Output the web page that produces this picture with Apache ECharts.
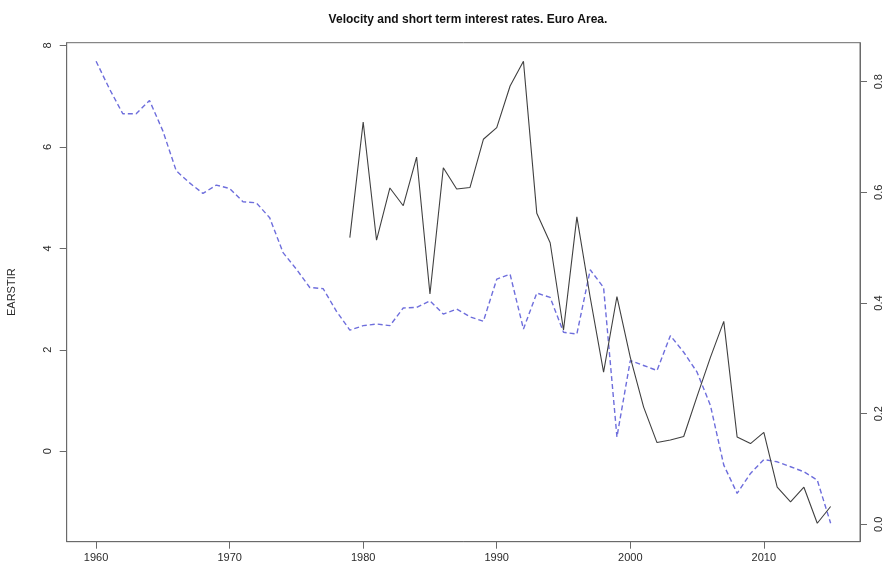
<!DOCTYPE html>
<html>
<head>
<meta charset="utf-8">
<script src="https://cdn.jsdelivr.net/npm/echarts@6/dist/echarts.min.js"></script>
<style>
  html, body { margin: 0; padding: 0; background: #fff; }
  #chart { width: 887px; height: 568px; }
</style>
</head>
<body>
<div id="chart"></div>
<script>
// Years covered by the chart
const years = [];
for (let y = 1960; y <= 2015; y++) years.push(y);

// Short-term interest rate (left axis), available from 1979
const earstirYears = [1979,1980,1981,1982,1983,1984,1985,1986,1987,1988,1989,1990,1991,1992,1993,1994,1995,1996,1997,1998,1999,2000,2001,2002,2003,2004,2005,2006,2007,2008,2009,2010,2011,2012,2013,2014,2015];
const earstir = [4.21,6.49,4.16,5.19,4.84,5.80,3.10,5.59,5.17,5.20,6.15,6.38,7.20,7.69,4.69,4.11,2.39,4.62,3.03,1.56,3.05,1.85,0.87,0.17,0.22,0.29,1.08,1.85,2.56,0.28,0.15,0.37,-0.71,-1.00,-0.71,-1.42,-1.09];

// Velocity (right axis), 1960-2015
const velocity = [0.837,0.787,0.742,0.742,0.766,0.711,0.639,0.617,0.598,0.613,0.607,0.583,0.581,0.554,0.491,0.461,0.428,0.426,0.385,0.351,0.359,0.362,0.359,0.391,0.392,0.404,0.380,0.389,0.375,0.367,0.443,0.452,0.353,0.418,0.410,0.347,0.344,0.460,0.428,0.158,0.296,0.287,0.278,0.341,0.311,0.275,0.215,0.107,0.056,0.092,0.117,0.113,0.104,0.095,0.080,0.002];

// Tick values
const xTicks = [1960, 1970, 1980, 1990, 2000, 2010];
const leftTicks = [0, 2, 4, 6, 8];
const rightTicks = [0, 0.2, 0.4, 0.6, 0.8];

// Axis ranges padded by 4% of the data span on each side
function padded(arr) {
  const lo = Math.min(...arr), hi = Math.max(...arr);
  const d = (hi - lo) * 0.04;
  return [lo - d, hi + d];
}
const xr = padded(years);
const lr = padded(earstir);
const rr = padded(velocity);

const FONT = 'Liberation Sans, Arial, Helvetica, sans-serif';
const TXT = '#2a2a2a';
const FRAME = '#6a6a6a';

function axisLine() {
  return { show: true, onZero: false, lineStyle: { color: FRAME, width: 1 } };
}
function ticks(values) {
  return { show: true, inside: false, length: 7, lineStyle: { color: FRAME, width: 1 }, customValues: values };
}

const chart = echarts.init(document.getElementById('chart'), null, { renderer: 'canvas' });
chart.setOption({
  animation: false,
  backgroundColor: '#ffffff',
  title: {
    text: 'Velocity and short term interest rates. Euro Area.',
    left: 463,
    top: 9,
    textAlign: 'center',
    textStyle: { fontFamily: FONT, fontSize: 12, fontWeight: 'bold', color: '#111' }
  },
  grid: {
    left: 66.7, right: 27, top: 42.7, bottom: 26.3,
    outerBoundsMode: 'none',
    containLabel: false,
    show: true, borderColor: FRAME, borderWidth: 1, backgroundColor: 'transparent'
  },
  xAxis: {
    type: 'value', position: 'bottom',
    min: xr[0], max: xr[1],
    splitLine: { show: false },
    axisLine: axisLine(),
    axisTick: ticks(xTicks),
    axisLabel: {
      customValues: xTicks, margin: 11,
      fontFamily: FONT, fontSize: 11, color: TXT,
      formatter: v => String(v)
    }
  },
  yAxis: [
    {
      type: 'value', position: 'left',
      min: lr[0], max: lr[1],
      name: 'EARSTIR', nameLocation: 'middle', nameRotate: 90, nameGap: 49,
      nameTextStyle: { fontFamily: FONT, fontSize: 11, color: TXT },
      splitLine: { show: false },
      axisLine: axisLine(),
      axisTick: ticks(leftTicks),
      axisLabel: {
        customValues: leftTicks, rotate: 90, margin: 13,
        fontFamily: FONT, fontSize: 11, color: TXT,
        formatter: v => String(v)
      }
    },
    {
      type: 'value', position: 'right',
      min: rr[0], max: rr[1],
      splitLine: { show: false },
      axisLine: axisLine(),
      axisTick: ticks(rightTicks),
      axisLabel: {
        customValues: rightTicks, rotate: 90, margin: 13,
        fontFamily: FONT, fontSize: 11, color: TXT,
        formatter: v => v.toFixed(1)
      }
    }
  ],
  series: [
    {
      type: 'line', yAxisIndex: 1, symbol: 'none',
      data: years.map((y, i) => [y, velocity[i]]),
      lineStyle: { color: '#6e6edc', width: 1.4, type: [5, 3] },
      z: 2
    },
    {
      type: 'line', yAxisIndex: 0, symbol: 'none',
      data: earstirYears.map((y, i) => [y, earstir[i]]),
      lineStyle: { color: '#404040', width: 1.1 },
      z: 3
    }
  ]
});
</script>
</body>
</html>
